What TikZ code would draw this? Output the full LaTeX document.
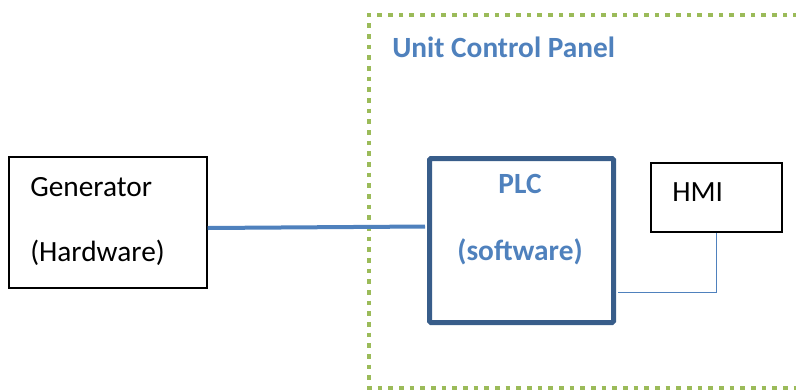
\documentclass[tikz,border=0pt]{standalone}
\usepackage{fontspec}
\setmainfont{Carlito}
\definecolor{pgreen}{HTML}{9BBB59}
\definecolor{pblue}{HTML}{4F81BD}
\definecolor{pdark}{HTML}{385D8A}
\begin{document}
\begin{tikzpicture}[x=0.75pt,y=-0.75pt,
  txt/.style={inner sep=0pt,font=\fontsize{22}{26}\selectfont},
  btxt/.style={txt,font=\fontsize{22}{26}\selectfont\bfseries,text=pblue},
  plainbox/.style={draw=black,line width=0.8pt,inner sep=0pt},
]
\useasboundingbox (0,0) rectangle (796,390);
\begin{scope}
\clip (0,0) rectangle (796,390);
\draw[pgreen,line width=3.4pt,dash pattern=on 3.4pt off 4.6pt] (830,15) -- (369,15) -- (369,388) -- (830,388);
\end{scope}
\node[btxt,anchor=base west] (ucp) at (392,57) {Unit Control Panel};

\node[plainbox,minimum width=198*0.75pt,minimum height=131*0.75pt] (gen) at (108,222.5) {};
\node[txt,anchor=base west] (gen1) at (30,196) {Generator};
\node[txt,anchor=base west] (gen2) at (30,261) {(Hardware)};

\node[draw=pdark,line width=3.75pt,rounded corners=1pt,minimum width=184*0.75pt,minimum height=164*0.75pt,inner sep=0pt] (plc) at (521.5,240.5) {};
\node[btxt,anchor=base] (plc1) at (520,193) {PLC};
\node[btxt,anchor=base] (plc2) at (520,260) {(software)};

\node[plainbox,minimum width=131*0.75pt,minimum height=69*0.75pt] (hmi) at (716.5,197.5) {};
\node[txt,anchor=base west] (hmi1) at (672,201) {HMI};

\draw[pblue,line width=3pt] ([yshift=-5.5*0.75pt]gen.east) -- ([yshift=14*0.75pt,xshift=-1.5pt]plc.west);
\draw[pblue,line width=1.2pt] ([yshift=-52*0.75pt,xshift=1.5pt]plc.east) -| (hmi.south);
\end{tikzpicture}
\end{document}
